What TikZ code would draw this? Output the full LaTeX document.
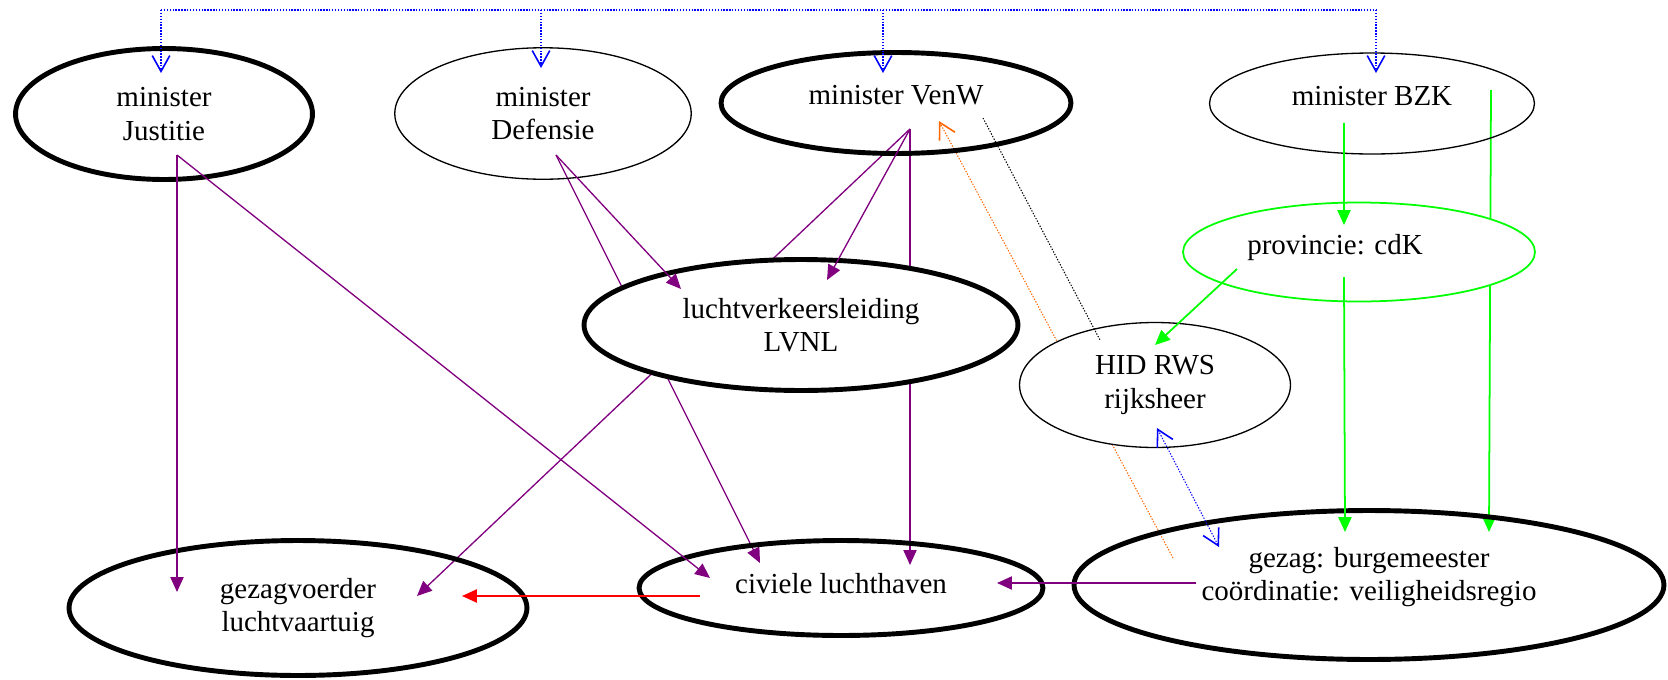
\documentclass[tikz,border=0pt]{standalone}
\usepackage{fontspec}
\setmainfont{Liberation Serif}
\usetikzlibrary{shapes.geometric,arrows.meta,backgrounds}
\definecolor{edgepurple}{RGB}{128,0,128}
\definecolor{provgreen}{RGB}{0,255,0}
\definecolor{dotorange}{RGB}{255,102,0}

\begin{document}
\begin{tikzpicture}[x=0.02cm, y=-0.02cm,
    actor/.style={ellipse, draw, inner sep=0pt, align=center, line width=0.75pt, font=\fontsize{16.5}{19}\selectfont},
    bigactor/.style={actor, line width=2.8pt},
    pline/.style={draw=edgepurple, line width=0.75pt, -{Triangle[length=8.5pt,width=7.5pt]}},
    gline/.style={draw=provgreen, line width=1pt, -{Triangle[length=8.5pt,width=7.5pt]}},
    rline/.style={draw=red, line width=1pt, -{Triangle[length=8.5pt,width=7.5pt]}},
    dotline/.style={line width=0.6pt, dash pattern=on 0.75pt off 0.9pt},
    vtip/.tip={Straight Barb[length=9pt,width=10pt,line width=0.9pt]}]
    \useasboundingbox (0,0) rectangle (1668,680);

    \node (jus) [bigactor, minimum width=5.94cm, minimum height=2.62cm] at (164,114) {minister\\Justitie};
    \node (def) [actor, minimum width=5.93cm, minimum height=2.63cm] at (543,113.5) {minister\\Defensie};
    \node (venw) [bigactor, minimum width=7cm, minimum height=2.02cm, text depth=0.32cm] at (896,103) {minister VenW};
    \node (bzk) [actor, minimum width=6.5cm, minimum height=2.02cm, text depth=0.32cm] at (1372,103.5) {minister BZK};
    \node (prov) [actor, draw=provgreen, fill=white, line width=1pt, minimum width=7.04cm, minimum height=1.98cm, text depth=0.29cm] at (1359,252) {provincie: cdK\hspace*{0.96cm}};
    \node (lvnl) [bigactor, fill=white, minimum width=8.68cm, minimum height=2.62cm] at (801,325) {luchtverkeersleiding\\LVNL};
    \node (hid) [actor, fill=white, minimum width=5.42cm, minimum height=2.5cm] at (1155,385) {HID RWS\\rijksheer};
    \node (gez) [bigactor, minimum width=9.16cm, minimum height=2.7cm] at (298,608) {gezagvoerder\\luchtvaartuig};
    \node (civ) [bigactor, minimum width=8.08cm, minimum height=1.9cm, text depth=0.2cm] at (841,588) {civiele luchthaven};
    \node (gzg) [bigactor, minimum width=11.8cm, minimum height=2.98cm, text depth=0.45cm] at (1369,585) {gezag: burgemeester\\coördinatie: veiligheidsregio};

    % lines that run behind LVNL, provincie and HID
    \begin{scope}[on background layer]
        \draw[pline] ([shift={(13,41.5)}]def.center) -- ([shift={(-81,-25)}]civ.center);
        \draw[pline] ([shift={(14,26)}]venw.center) -- ([shift={(119,-12)}]gez.center);
        \draw[pline] ([shift={(14,26)}]venw.center) -- ([shift={(69,-23)}]civ.center);
        \draw[gline] ([shift={(119,-13.5)}]bzk.center) -- ([shift={(120,-53)}]gzg.center);
        \draw[dotline, draw=dotorange, -vtip] ([shift={(-196,-27)}]gzg.center) -- ([shift={(43,18)}]venw.center);
    \end{scope}

    % ministers on one line
    \coordinate (bus) at (0,10);
    \coordinate (jusTop) at ([shift={(-3,-41)}]jus.center);
    \coordinate (defTop) at ([shift={(-2,-45.5)}]def.center);
    \coordinate (venwTop) at ([shift={(-13,-30)}]venw.center);
    \coordinate (bzkTop) at ([shift={(4,-30.5)}]bzk.center);
    \draw[dotline, draw=blue] (jusTop |- bus) -- (bzkTop |- bus);
    \foreach \t in {jusTop,defTop,venwTop,bzkTop}
        \draw[dotline, draw=blue, -vtip] (\t |- bus) -- (\t);

    \draw[pline] ([shift={(13,41)}]jus.center) -- ([shift={(-121,-16)}]gez.center);
    \draw[pline] ([shift={(13,41)}]jus.center) -- ([shift={(-131,-10)}]civ.center);
    \draw[pline] ([shift={(13,41.5)}]def.center) -- ([shift={(-120,-36)}]lvnl.center);
    \draw[pline] ([shift={(14,26)}]venw.center) -- ([shift={(26,-45)}]lvnl.center);
    \draw[pline] ([shift={(-173,-2)}]gzg.center) -- ([shift={(156,-5)}]civ.center);
    \draw[rline] ([shift={(-141,8)}]civ.center) -- ([shift={(164,-12)}]gez.center);

    \draw[gline] ([shift={(-28,19.5)}]bzk.center) -- ([shift={(-15,-27)}]prov.center);
    \draw[gline] ([shift={(-15,25)}]prov.center) -- ([shift={(-24,-53)}]gzg.center);
    \draw[gline] ([shift={(-122,17)}]prov.center) -- ([shift={(0,-40)}]hid.center);

    \draw[dotline] ([shift={(87,15)}]venw.center) -- ([shift={(-55,-45)}]hid.center);
    \draw[dotline, draw=blue, vtip-vtip] ([shift={(2,43)}]hid.center) -- ([shift={(-150,-38)}]gzg.center);
\end{tikzpicture}
\end{document}
